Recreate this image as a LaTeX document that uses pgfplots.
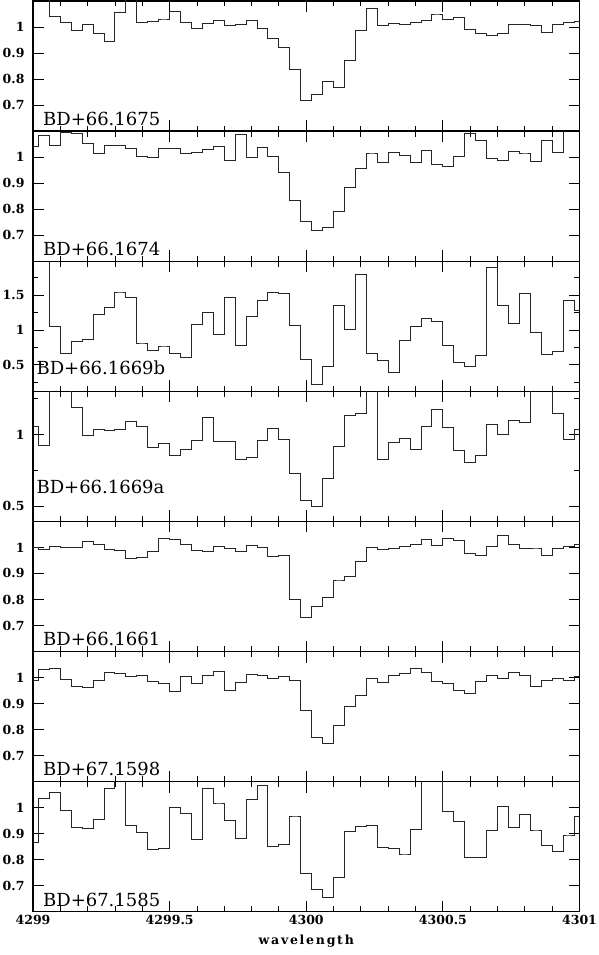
\documentclass[border=0pt]{standalone}
\usepackage{fontspec}
\setmainfont{DejaVu Serif}
\usepackage{pgfplots}
\usepackage{pgfplotstable}
\pgfplotsset{compat=1.18}

% normalised flux per 0.04 A bin, one column per star (top to bottom)
\pgfplotstableread{
x       p1    p2    p3    p4    p5    p6    p7
4299.00 1.12  1.040 2.10  1.056 1.000 0.987 0.867
4299.04 1.12  1.082 2.10  0.926 0.992 1.031 1.036
4299.08 1.042 1.045 1.048 1.35  1.003 1.036 1.059
4299.12 1.017 1.096 0.657 1.35  1.000 0.991 0.988
4299.16 0.985 1.090 0.838 1.192 0.999 0.964 0.924
4299.20 1.010 1.053 0.862 0.991 1.024 0.960 0.918
4299.24 0.974 1.014 1.229 1.035 1.010 0.990 0.953
4299.28 0.946 1.046 1.319 1.032 0.992 1.019 1.072
4299.32 1.056 1.046 1.533 1.035 0.987 1.015 1.12
4299.36 1.12  1.033 1.462 1.090 0.956 1.003 0.932
4299.40 1.017 1.003 0.800 1.056 0.960 1.006 0.905
4299.44 1.022 0.997 0.700 0.912 0.983 0.985 0.840
4299.48 1.027 1.032 0.757 0.935 1.033 0.977 0.842
4299.52 1.058 1.033 0.667 0.852 1.031 0.947 0.999
4299.56 1.019 1.013 0.605 0.894 1.012 1.003 0.976
4299.60 0.994 1.017 1.086 0.958 0.987 0.977 0.876
4299.64 1.014 1.028 1.252 1.118 0.983 1.006 1.072
4299.68 1.024 1.042 0.938 0.949 1.005 1.024 1.014
4299.72 1.006 0.988 1.467 0.951 0.995 0.951 0.951
4299.76 1.009 1.088 0.781 0.824 0.985 0.981 0.881
4299.80 1.024 0.999 1.200 0.843 1.008 1.013 1.033
4299.84 0.994 1.038 1.419 0.956 1.000 1.009 1.085
4299.88 0.955 1.001 1.543 1.046 0.964 0.997 0.850
4299.92 0.922 0.940 1.519 0.965 0.968 1.005 0.859
4299.96 0.835 0.834 1.062 0.731 0.800 0.990 0.964
4300.00 0.718 0.753 0.576 0.539 0.730 0.873 0.746
4300.04 0.741 0.719 0.224 0.500 0.772 0.768 0.687
4300.08 0.791 0.729 0.471 0.697 0.807 0.746 0.653
4300.12 0.768 0.792 1.357 0.917 0.871 0.815 0.733
4300.16 0.873 0.882 1.010 1.137 0.887 0.889 0.910
4300.20 0.987 0.958 1.800 1.146 0.947 0.931 0.926
4300.24 1.070 1.012 0.657 1.35  1.000 0.997 0.932
4300.28 1.006 0.981 0.557 0.829 0.991 0.982 0.845
4300.32 1.013 1.018 0.386 0.944 0.997 1.006 0.844
4300.36 1.009 1.005 0.857 0.975 1.005 1.015 0.818
4300.40 1.017 0.979 1.048 0.894 1.013 1.036 0.917
4300.44 1.024 1.024 1.167 1.060 1.032 1.019 1.12
4300.48 1.050 0.971 1.124 1.178 1.006 0.983 1.12
4300.52 1.029 0.963 0.781 1.051 1.033 0.977 0.985
4300.56 1.036 1.003 0.538 0.889 1.026 0.950 0.945
4300.60 0.992 1.091 0.481 0.803 0.978 0.938 0.810
4300.64 0.976 1.063 0.633 0.854 0.968 0.985 0.808
4300.68 0.968 0.995 1.900 1.069 1.004 1.006 0.912
4300.72 0.974 0.986 1.348 1.002 1.045 0.996 1.006
4300.76 1.008 1.022 1.090 1.100 1.010 1.018 0.924
4300.80 1.010 1.012 1.519 1.086 0.997 1.008 0.974
4300.84 1.004 0.983 0.971 1.35  0.994 0.967 0.914
4300.88 0.978 1.065 0.648 1.35  0.970 0.990 0.856
4300.92 1.008 1.019 0.695 1.150 0.997 0.996 0.832
4300.96 1.017 1.15  1.429 0.963 1.003 0.987 0.891
4301.00 1.022 1.12  1.281 1.035 1.013 1.003 0.965
}\spec

\pgfplotsset{
  panel/.style={
    scale only axis, width=546.5pt, height=130.1pt,
    anchor=north west,
    xmin=4299, xmax=4301,
    xtick={4299,4299.5,4300,4300.5,4301},
    minor x tick num=4,
    xticklabels={},
    ymin=0.6, ymax=1.1,
    ytick={0.7,0.8,0.9,1},
    tick align=inside,
    major tick length=11pt, minor tick length=5.5pt,
    axis line style={line width=1.3pt},
    tick style={black, line width=0.9pt},
    tick label style={font=\fontsize{12.5}{14}\selectfont\bfseries},
    /pgf/number format/assume math mode=true,
    scaled ticks=false,
    yticklabel style={xshift=-5pt},
  },
  spec/.style={const plot mark mid, black!85, line width=1pt},
}
\tikzset{star/.style={anchor=base west, font=\fontsize{18}{20}\selectfont}}

\begin{document}
\begin{tikzpicture}

\begin{axis}[panel, at={(33pt,-1pt)}]
\addplot[spec] table[x=x, y=p1] {\spec};
\node[star] at (rel axis cs:0.012,0.04) {BD+66.1675};
\end{axis}

\begin{axis}[panel, at={(33pt,-131.1pt)}]
\addplot[spec] table[x=x, y=p2] {\spec};
\node[star] at (rel axis cs:0.012,0.04) {BD+66.1674};
\end{axis}

\begin{axis}[panel, at={(33pt,-261.2pt)}, ymin=0.12, ymax=1.99,
  ytick={0.5,1,1.5}, minor ytick={0.25,0.75,1.25,1.75}]
\addplot[spec] table[x=x, y=p3] {\spec};
\node[star] at (rel axis cs:0.0,0.13) {BD+66.1669b};
\end{axis}

\begin{axis}[panel, at={(33pt,-391.3pt)}, ymin=0.394, ymax=1.303,
  ytick={0.5,1}, minor ytick={0.75,1.25}]
\addplot[spec] table[x=x, y=p4] {\spec};
\node[star] at (rel axis cs:0.0,0.215) {BD+66.1669a};
\end{axis}

\begin{axis}[panel, at={(33pt,-521.4pt)}]
\addplot[spec] table[x=x, y=p5] {\spec};
\node[star] at (rel axis cs:0.012,0.045) {BD+66.1661};
\end{axis}

\begin{axis}[panel, at={(33pt,-651.5pt)}]
\addplot[spec] table[x=x, y=p6] {\spec};
\node[star] at (rel axis cs:0.012,0.045) {BD+67.1598};
\end{axis}

\begin{axis}[panel, at={(33pt,-781.6pt)},
  xticklabels={4299,4299.5,4300,4300.5,4301},
  xlabel={wavelength},
  xlabel style={font=\fontsize{12.5}{14}\selectfont\bfseries\addfontfeature{LetterSpace=14}, yshift=-3pt}]
\addplot[spec] table[x=x, y=p7] {\spec};
\node[star] at (rel axis cs:0.012,0.04) {BD+67.1585};
\end{axis}

\pgfresetboundingbox
\path (0,0) rectangle (599pt,-955pt);
\end{tikzpicture}
\end{document}
